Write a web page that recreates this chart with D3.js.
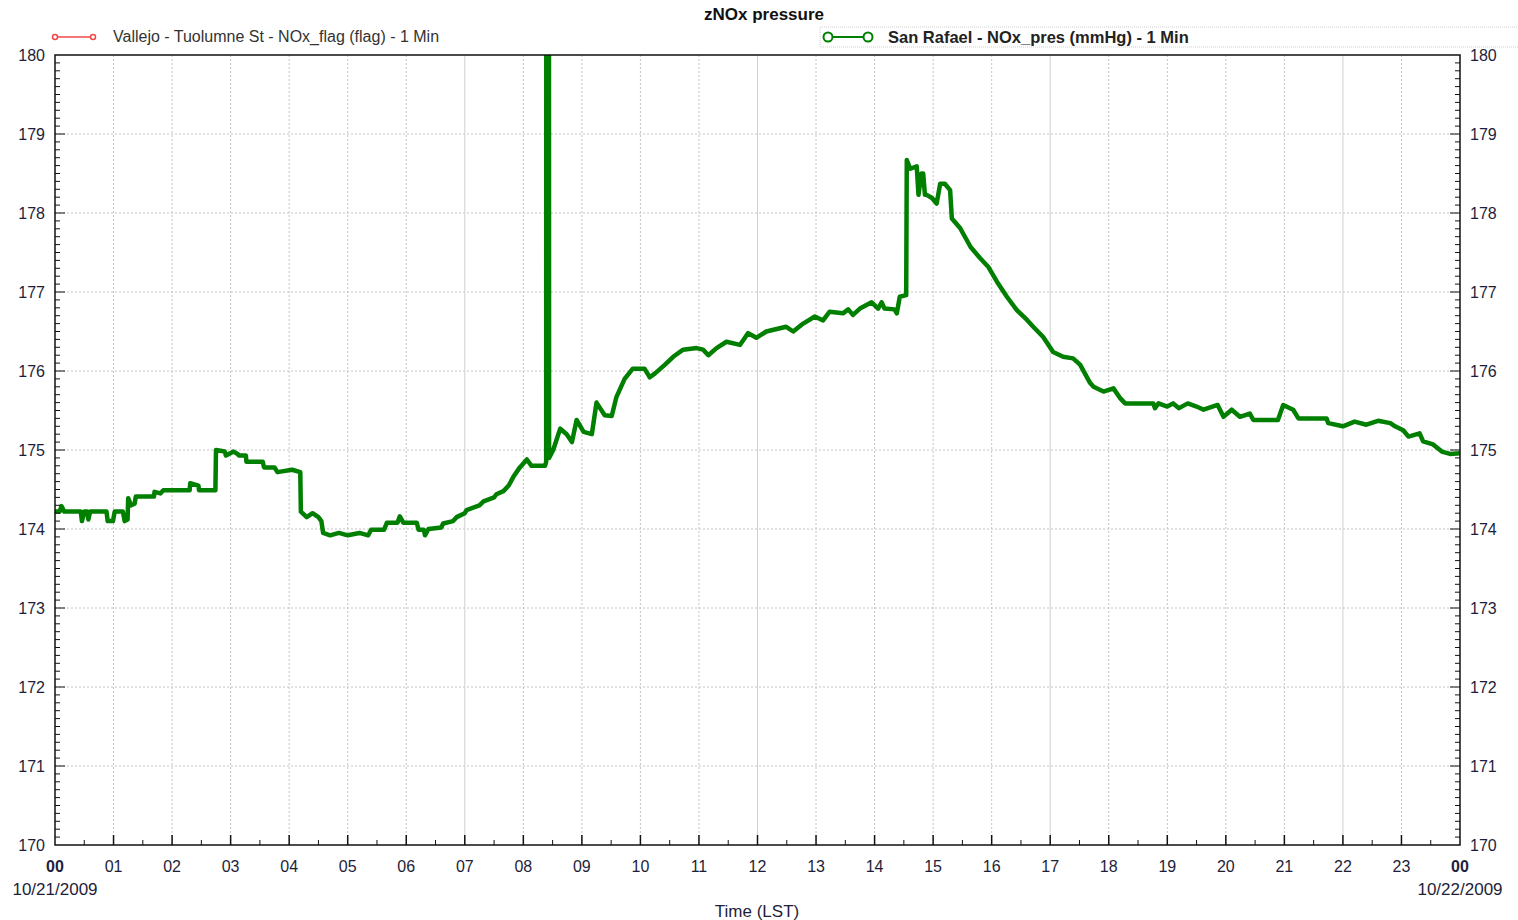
<!DOCTYPE html>
<html>
<head>
<meta charset="utf-8">
<script src="https://cdn.jsdelivr.net/npm/d3@7"></script>
<style>
  body { margin: 0; background: #fff; }
  svg { font-family: "Liberation Sans", Arial, sans-serif; }
</style>
</head>
<body>
<div id="chart"></div>
<script>
// hours since 00:00 on 10/21/2009
var hours = [0.00,0.08,0.11,0.16,0.44,0.46,0.50,0.55,0.57,0.60,0.88,0.90,0.99,1.02,1.16,1.19,1.24,1.25,1.30,1.36,
  1.38,1.69,1.70,1.80,1.85,2.30,2.31,2.45,2.46,2.74,2.75,2.90,2.92,3.05,3.12,3.14,3.26,3.27,3.55,3.57,
  3.75,3.80,4.05,4.19,4.20,4.30,4.40,4.50,4.55,4.58,4.70,4.85,5.00,5.20,5.35,5.40,5.62,5.67,5.85,5.89,
  5.95,6.18,6.21,6.30,6.32,6.38,6.60,6.63,6.80,6.86,7.00,7.03,7.25,7.32,7.50,7.54,7.66,7.75,7.83,7.94,
  8.06,8.14,8.37,8.39,8.40,8.43,8.44,8.51,8.63,8.74,8.83,8.91,9.03,9.17,9.25,9.39,9.51,9.59,9.73,9.87,
  10.07,10.16,10.25,10.42,10.56,10.73,10.96,11.07,11.16,11.30,11.47,11.70,11.84,11.98,12.15,12.49,12.61,12.78,12.98,13.12,
  13.23,13.46,13.55,13.63,13.75,13.95,14.06,14.12,14.17,14.34,14.38,14.43,14.54,14.55,14.61,14.72,14.75,14.80,14.83,14.86,
  14.89,14.98,15.06,15.12,15.20,15.29,15.32,15.46,15.64,15.80,15.94,16.09,16.26,16.43,16.60,16.71,16.88,17.05,17.22,17.39,
  17.51,17.68,17.74,17.91,18.08,18.19,18.28,18.76,18.79,18.85,19.00,19.10,19.20,19.35,19.50,19.62,19.86,19.96,20.10,20.24,
  20.41,20.47,20.89,20.98,21.15,21.24,21.72,21.75,22.00,22.20,22.40,22.60,22.81,22.89,23.03,23.12,23.31,23.37,23.54,23.69,
  23.83,24.00];
// San Rafael NOx_pres (mmHg)
var pres = [174.22,174.22,174.29,174.22,174.22,174.10,174.22,174.22,174.12,174.22,174.22,174.10,174.10,174.22,174.22,174.10,174.12,174.39,174.30,174.32,
  174.41,174.41,174.47,174.45,174.49,174.49,174.58,174.55,174.49,174.49,175.00,174.98,174.93,174.98,174.95,174.93,174.93,174.85,174.85,174.78,
  174.78,174.72,174.75,174.72,174.22,174.15,174.20,174.15,174.10,173.95,173.92,173.95,173.92,173.95,173.92,173.99,173.99,174.08,174.08,174.16,
  174.08,174.08,173.99,173.99,173.92,174.00,174.02,174.07,174.10,174.15,174.20,174.24,174.30,174.35,174.40,174.44,174.48,174.55,174.66,174.78,
  174.88,174.80,174.80,174.85,200.00,200.00,174.90,175.00,175.27,175.20,175.10,175.38,175.23,175.20,175.60,175.44,175.43,175.67,175.90,176.03,
  176.03,175.92,175.97,176.08,176.18,176.27,176.29,176.27,176.20,176.29,176.37,176.33,176.48,176.42,176.50,176.56,176.50,176.60,176.69,176.64,
  176.75,176.73,176.78,176.71,176.79,176.87,176.79,176.87,176.79,176.78,176.73,176.94,176.96,178.67,178.56,178.59,178.23,178.50,178.50,178.23,
  178.23,178.19,178.12,178.37,178.37,178.29,177.93,177.81,177.57,177.43,177.32,177.13,176.94,176.77,176.65,176.56,176.43,176.24,176.18,176.16,
  176.08,175.85,175.80,175.74,175.78,175.66,175.59,175.59,175.53,175.59,175.55,175.59,175.53,175.59,175.55,175.51,175.57,175.42,175.51,175.42,
  175.46,175.38,175.38,175.57,175.51,175.40,175.40,175.34,175.30,175.36,175.32,175.37,175.34,175.30,175.25,175.17,175.21,175.11,175.07,174.98,
  174.95,174.96];

var hourLabels = ["00","01","02","03","04","05","06","07","08","09","10","11","12","13","14","15","16","17","18","19","20","21","22","23","00"];
var yTicks = [170,171,172,173,174,175,176,177,178,179,180];
var solidHours = [7, 12, 17, 22];
var startDate = "10/21/2009", endDate = "10/22/2009";
var title = "zNOx pressure";
var legend1 = "Vallejo - Tuolumne St - NOx_flag (flag) - 1 Min";
var legend2 = "San Rafael - NOx_pres (mmHg) - 1 Min";
var xTitle = "Time (LST)";

var W = 1518, H = 920;
var pL = 55, pR = 1460, pT = 55, pB = 845;
var txt = "#1e1e3a";

var svg = d3.select("#chart").append("svg").attr("width", W).attr("height", H);

var x = d3.scaleLinear().domain([0, 24]).range([pL, pR]);
var y = d3.scaleLinear().domain([170, 180]).range([pB, pT]);

// grid
var grid = svg.append("g");
grid.selectAll("line.h").data(yTicks.slice(1, -1)).enter().append("line")
  .attr("x1", pL).attr("x2", pR)
  .attr("y1", function (d) { return y(d); }).attr("y2", function (d) { return y(d); })
  .style("stroke", "#c4c4c4").style("stroke-dasharray", "2,2");
grid.selectAll("line.v").data(d3.range(1, 24)).enter().append("line")
  .attr("y1", pT).attr("y2", pB)
  .attr("x1", function (d) { return x(d); }).attr("x2", function (d) { return x(d); })
  .style("stroke", function (d) { return solidHours.indexOf(d) > -1 ? "#d0d0d0" : "#c4c4c4"; })
  .style("stroke-dasharray", function (d) { return solidHours.indexOf(d) > -1 ? null : "2,2"; });

// data line, clipped to the plot
svg.append("clipPath").attr("id", "plot")
  .append("rect").attr("x", pL).attr("y", pT).attr("width", pR - pL).attr("height", pB - pT);

var pts = hours.map(function (h, i) { return [h, pres[i]]; });
var line = d3.line().x(function (d) { return x(d[0]); }).y(function (d) { return y(d[1]); });
svg.append("path").datum(pts)
  .attr("clip-path", "url(#plot)")
  .attr("d", line)
  .style("fill", "none").style("stroke", "#007f00").style("stroke-width", 4.5)
  .style("stroke-linejoin", "round");

// frame
svg.append("rect").attr("x", pL).attr("y", pT).attr("width", pR - pL).attr("height", pB - pT)
  .style("fill", "none").style("stroke", "#111").style("stroke-width", 1.5);

// y ticks (both sides, inward)
var yMinor = d3.range(1, 100).map(function (i) { return 170 + i / 10; });
var ticks = svg.append("g").style("stroke", "#111");
ticks.selectAll("line.yl").data(yMinor).enter().append("line")
  .attr("x1", pL).attr("x2", function (d, i) { return pL + ((i + 1) % 10 == 0 ? 10 : 5); })
  .attr("y1", function (d) { return y(d); }).attr("y2", function (d) { return y(d); });
ticks.selectAll("line.yr").data(yMinor).enter().append("line")
  .attr("x1", pR).attr("x2", function (d, i) { return pR - ((i + 1) % 10 == 0 ? 10 : 5); })
  .attr("y1", function (d) { return y(d); }).attr("y2", function (d) { return y(d); });
// x ticks every half hour
ticks.selectAll("line.x").data(d3.range(1, 48)).enter().append("line")
  .attr("x1", function (d) { return x(d / 2); }).attr("x2", function (d) { return x(d / 2); })
  .attr("y1", pB).attr("y2", function (d) { return pB - (d % 2 == 0 ? 10 : 5); })
  .style("stroke-width", function (d) { return d % 2 == 0 ? 1.5 : 1; });

// y labels
svg.selectAll("text.yl").data(yTicks).enter().append("text")
  .attr("x", pL - 10).attr("y", function (d) { return y(d) + 6; })
  .attr("text-anchor", "end").style("font-size", "16px").style("fill", txt)
  .text(function (d) { return d; });
svg.selectAll("text.yr").data(yTicks).enter().append("text")
  .attr("x", pR + 10).attr("y", function (d) { return y(d) + 6; })
  .attr("text-anchor", "start").style("font-size", "16px").style("fill", txt)
  .text(function (d) { return d; });

// x labels
svg.selectAll("text.x").data(hourLabels).enter().append("text")
  .attr("x", function (d, i) { return x(i); }).attr("y", pB + 27)
  .attr("text-anchor", "middle").style("font-size", "16px").style("fill", txt)
  .style("font-weight", function (d, i) { return (i == 0 || i == 24) ? "bold" : "normal"; })
  .text(function (d) { return d; });
svg.append("text").attr("x", x(0)).attr("y", pB + 50).attr("text-anchor", "middle")
  .style("font-size", "17px").style("fill", txt).text(startDate);
svg.append("text").attr("x", x(24)).attr("y", pB + 50).attr("text-anchor", "middle")
  .style("font-size", "17px").style("fill", txt).text(endDate);
svg.append("text").attr("x", 757).attr("y", 917).attr("text-anchor", "middle")
  .style("font-size", "17px").style("fill", txt).text(xTitle);

// title
svg.append("text").attr("x", 764).attr("y", 20).attr("text-anchor", "middle")
  .style("font-size", "17px").style("font-weight", "bold").style("fill", "#111").text(title);

// legend 1 (red)
var lg1 = svg.append("g");
lg1.append("line").attr("x1", 55).attr("x2", 93).attr("y1", 37).attr("y2", 37)
  .style("stroke", "#f04848").style("stroke-width", 1.5);
lg1.selectAll("circle").data([55, 93]).enter().append("circle")
  .attr("cx", function (d) { return d; }).attr("cy", 37).attr("r", 2.5)
  .style("fill", "#fff").style("stroke", "#f04848").style("stroke-width", 1.5);
lg1.append("text").attr("x", 113).attr("y", 42).style("font-size", "16px").style("fill", "#333")
  .text(legend1);

// legend 2 (green) in a dotted box
var lg2 = svg.append("g");
lg2.append("rect").attr("x", 820).attr("y", 27).attr("width", 700).attr("height", 20)
  .style("fill", "none").style("stroke", "#cfcfcf").style("stroke-dasharray", "1,1");
lg2.append("line").attr("x1", 828).attr("x2", 868).attr("y1", 37).attr("y2", 37)
  .style("stroke", "#008000").style("stroke-width", 2);
lg2.selectAll("circle").data([828, 868]).enter().append("circle")
  .attr("cx", function (d) { return d; }).attr("cy", 37).attr("r", 4.5)
  .style("fill", "#fff").style("stroke", "#008000").style("stroke-width", 2);
lg2.append("text").attr("x", 888).attr("y", 43).style("font-size", "16.5px").style("font-weight", "bold")
  .style("fill", "#222").text(legend2);
</script>
</body>
</html>
